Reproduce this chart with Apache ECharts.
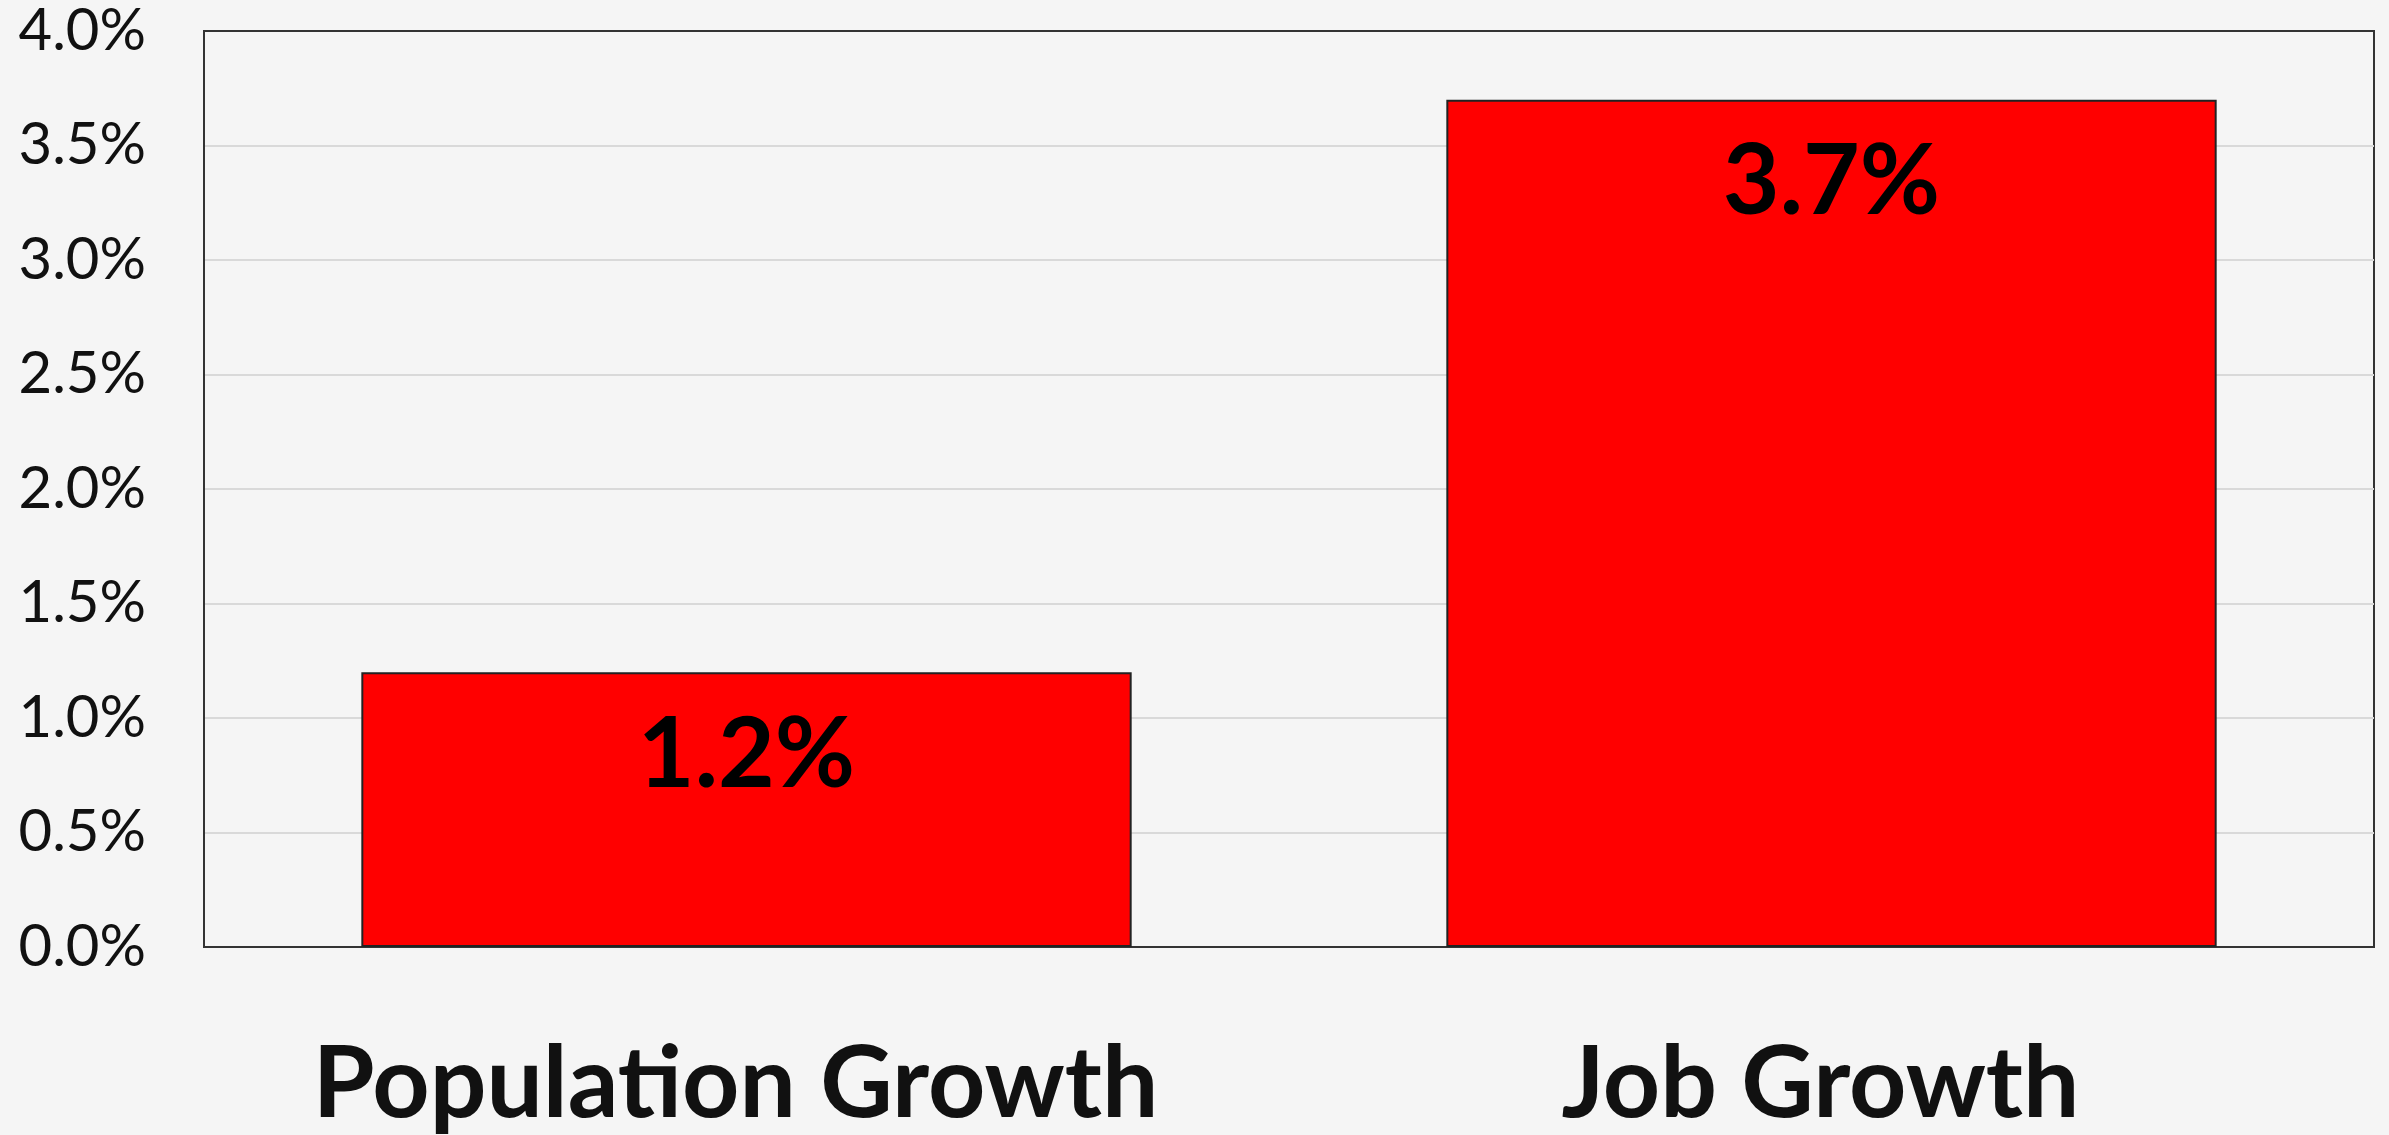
<!DOCTYPE html>
<html>
<head>
<meta charset="utf-8">
<script src="https://cdn.jsdelivr.net/npm/echarts@6/dist/echarts.min.js"></script>
<style>
  html, body { margin: 0; padding: 0; background: #f5f5f5; }
  #main { width: 2389px; height: 1135px; }
</style>
</head>
<body>
<div id="main"></div>
<script>
var categories = ['Population Growth', 'Job Growth'];
var growthValues = [1.2, 3.7];
var yTicks = { min: 0, max: 4, step: 0.5 };

var chartDom = document.getElementById('main');
var myChart = echarts.init(chartDom);
var option;

option = {
    backgroundColor: '#f5f5f5',
    textStyle: { fontFamily: 'Lato' },
    grid: {
        left: 204,
        right: 15,
        top: 31,
        bottom: 187,
        show: true,
        borderColor: '#333',
        borderWidth: 2,
        backgroundColor: 'transparent'
    },
    xAxis: {
        type: 'category',
        data: categories,
        axisLine: { show: true, lineStyle: { color: '#333', width: 2 } },
        axisTick: { show: false },
        axisLabel: {
            interval: 0,
            margin: 88,
            padding: [0, 22, 0, 0],
            fontSize: 100,
            fontWeight: 'bold',
            color: '#111'
        }
    },
    yAxis: {
        type: 'value',
        min: yTicks.min,
        max: yTicks.max,
        interval: yTicks.step,
        axisLine: { show: true, lineStyle: { color: '#333', width: 2 } },
        axisTick: { show: false },
        splitLine: {
            showMinLine: false,
            showMaxLine: false,
            lineStyle: { color: '#d9d9d9', width: 2 }
        },
        axisLabel: {
            margin: 58,
            fontSize: 58,
            color: '#111',
            formatter: function (v) { return v.toFixed(1) + '%'; }
        }
    },
    series: [
        {
            type: 'bar',
            data: growthValues,
            barWidth: '71%',
            itemStyle: {
                color: '#ff0000',
                borderColor: '#222',
                borderWidth: 2
            },
            label: {
                show: true,
                position: 'insideTop',
                distance: 34,
                fontSize: 98,
                fontWeight: 'bold',
                color: '#000',
                formatter: function (p) { return p.value.toFixed(1) + '%'; }
            }
        }
    ]
};

option && myChart.setOption(option);
</script>
</body>
</html>
